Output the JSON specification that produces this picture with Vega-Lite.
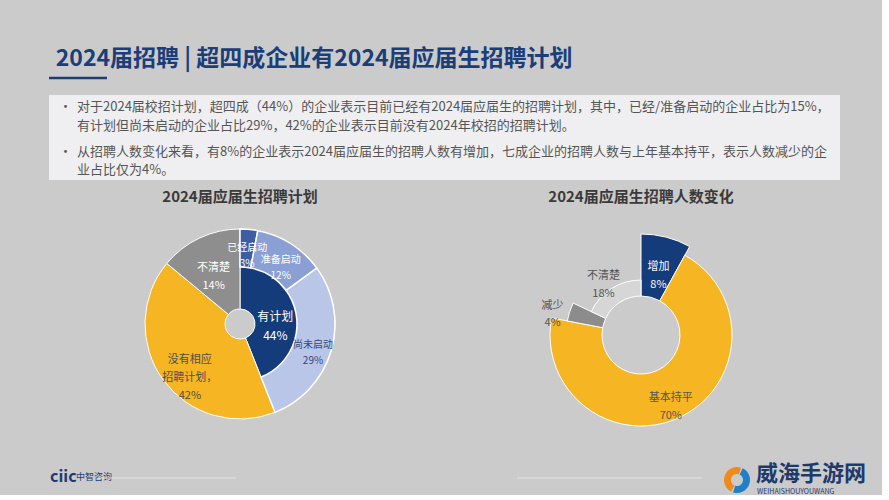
{
  "$schema": "https://vega.github.io/schema/vega-lite/v6.json",
  "background": "#cbcbcb",
  "padding": {"left": 47, "top": 47, "right": 0, "bottom": 0},
  "config": {"font": "Noto Sans CJK SC", "view": {"stroke": null}},
  "title": {"text": "2024届招聘 | 超四成企业有2024届应届生招聘计划", "anchor": "start", "fontSize": 23, "fontWeight": "bold", "color": "#1b3e78", "dx": 8, "offset": 6},
  "datasets": {
    "notes": [
      {"line": 1, "bullet": "•", "text": "对于2024届校招计划，超四成（44%）的企业表示目前已经有2024届应届生的招聘计划，其中，已经/准备启动的企业占比为15%，"},
      {"line": 2, "bullet": "", "text": "有计划但尚未启动的企业占比29%，42%的企业表示目前没有2024年校招的招聘计划。"},
      {"line": 3, "bullet": "•", "text": "从招聘人数变化来看，有8%的企业表示2024届应届生的招聘人数有增加，七成企业的招聘人数与上年基本持平，表示人数减少的企"},
      {"line": 4, "bullet": "", "text": "业占比仅为4%。"}
    ],
    "planGroups": [
      {"group": "有计划", "value": 44, "idx": 1, "label": "有计划\n44%"},
      {"group": "没有相应招聘计划", "value": 42, "idx": 2, "label": "没有相应\n招聘计划，\n42%"},
      {"group": "不清楚", "value": 14, "idx": 3, "label": "不清楚\n14%"}
    ],
    "plan": [
      {"sub": "已经启动", "group": "有计划", "value": 3, "idx": 1, "label": "已经启动\n3%"},
      {"sub": "准备启动", "group": "有计划", "value": 12, "idx": 2, "label": "准备启动\n12%"},
      {"sub": "尚未启动", "group": "有计划", "value": 29, "idx": 3, "label": "尚未启动\n29%"},
      {"sub": "没有相应招聘计划", "group": "没有相应招聘计划", "value": 42, "idx": 4, "label": "没有相应\n招聘计划，\n42%"},
      {"sub": "不清楚", "group": "不清楚", "value": 14, "idx": 5, "label": "不清楚\n14%"}
    ],
    "change": [
      {"cat": "增加", "value": 8, "idx": 1, "label": "增加\n8%"},
      {"cat": "基本持平", "value": 70, "idx": 2, "label": "基本持平\n70%"},
      {"cat": "减少", "value": 4, "idx": 3, "label": "减少\n4%"},
      {"cat": "不清楚", "value": 18, "idx": 4, "label": "不清楚\n18%"}
    ]
  },
  "spacing": 10,
  "resolve": {"scale": {"color": "independent"}},
  "vconcat": [
    {
      "width": 791,
      "height": 85,
      "view": {"fill": "#efeff1", "stroke": null},
      "data": {"name": "notes"},
      "layer": [
        {
          "mark": {"type": "text", "align": "left", "baseline": "middle", "fontSize": 13, "color": "#555555"},
          "encoding": {
            "x": {"value": 28},
            "y": {"field": "line", "type": "quantitative", "scale": {"domain": [1, 2, 3, 4], "range": [12, 31, 57, 75]}, "axis": null},
            "text": {"field": "text"}
          }
        },
        {
          "mark": {"type": "text", "align": "left", "baseline": "middle", "fontSize": 13, "color": "#555555"},
          "encoding": {
            "x": {"value": 10},
            "y": {"field": "line", "type": "quantitative", "scale": {"domain": [1, 2, 3, 4], "range": [12, 31, 57, 75]}, "axis": null},
            "text": {"field": "bullet"}
          }
        },
        {
          "data": {"values": [{}]},
          "mark": {"type": "rule", "color": "#1b3e78", "strokeWidth": 2.5},
          "encoding": {"x": {"value": 0}, "x2": {"value": 58}, "y": {"value": -17}}
        }
      ]
    },
    {
      "spacing": 10,
      "resolve": {"scale": {"color": "independent"}},
      "hconcat": [
        {
          "width": 382,
          "height": 214,
          "title": {"text": "2024届应届生招聘计划", "fontSize": 15, "fontWeight": "bold", "color": "#3a3a3a", "offset": 12, "anchor": "middle"},
          "layer": [
            {
              "data": {"name": "planGroups"},
              "mark": {"type": "arc", "radius": 95, "radius2": 15, "stroke": "white", "strokeWidth": 1},
              "encoding": {
                "theta": {"field": "value", "type": "quantitative", "stack": true},
                "order": {"field": "idx", "type": "quantitative"},
                "color": {"field": "group", "type": "nominal", "legend": null,
                  "scale": {"domain": ["已经启动", "准备启动", "尚未启动", "有计划", "没有相应招聘计划", "不清楚"], "range": ["#3e5da3", "#8aa0d4", "#b9c6e8", "#143b7a", "#f6b523", "#8e8e8e"]}}
              }
            },
            {
              "data": {"name": "plan"},
              "mark": {"type": "arc", "radius": 95, "radius2": 57, "stroke": "white", "strokeWidth": 1.5},
              "encoding": {
                "theta": {"field": "value", "type": "quantitative", "stack": true},
                "order": {"field": "idx", "type": "quantitative"},
                "color": {"field": "sub", "type": "nominal", "legend": null,
                  "scale": {"domain": ["已经启动", "准备启动", "尚未启动", "有计划", "没有相应招聘计划", "不清楚"], "range": ["#3e5da3", "#8aa0d4", "#b9c6e8", "#143b7a", "#f6b523", "#8e8e8e"]}},
                "opacity": {"condition": {"test": "datum.group === '有计划'", "value": 1}, "value": 0}
              }
            },
            {
              "data": {"name": "planGroups"},
              "mark": {"type": "text", "radius": 36, "fontSize": 12, "lineBreak": "\n", "lineHeight": 19, "color": "white"},
              "encoding": {
                "theta": {"field": "value", "type": "quantitative", "stack": true},
                "order": {"field": "idx", "type": "quantitative"},
                "detail": {"field": "group", "type": "nominal"},
                "text": {"condition": {"test": "datum.group === '有计划'", "field": "label", "type": "nominal"}, "value": ""}
              }
            },
            {
              "data": {"name": "planGroups"},
              "mark": {"type": "text", "radius": 62, "fontSize": 11, "lineBreak": "\n", "lineHeight": 18},
              "encoding": {
                "theta": {"field": "value", "type": "quantitative", "stack": true},
                "order": {"field": "idx", "type": "quantitative"},
                "detail": {"field": "group", "type": "nominal"},
                "text": {"condition": {"test": "datum.group !== '有计划'", "field": "label", "type": "nominal"}, "value": ""},
                "color": {"condition": {"test": "datum.group === '不清楚'", "value": "white"}, "value": "#4d4d4d"}
              }
            },
            {
              "data": {"name": "plan"},
              "mark": {"type": "text", "radius": 76, "fontSize": 10, "lineBreak": "\n", "lineHeight": 16},
              "encoding": {
                "theta": {"field": "value", "type": "quantitative", "stack": true},
                "order": {"field": "idx", "type": "quantitative"},
                "detail": {"field": "sub", "type": "nominal"},
                "text": {"condition": {"test": "datum.group === '有计划'", "field": "label", "type": "nominal"}, "value": ""},
                "color": {"condition": {"test": "datum.sub === '尚未启动'", "value": "#34497a"}, "value": "white"}
              }
            }
          ]
        },
        {
          "width": 400,
          "height": 236,
          "title": {"text": "2024届应届生招聘人数变化", "fontSize": 15, "fontWeight": "bold", "color": "#3a3a3a", "offset": 12, "anchor": "middle"},
          "data": {"name": "change"},
          "layer": [
            {
              "mark": {"type": "arc", "radius": 101, "radius2": 39, "stroke": "white", "strokeWidth": 1},
              "encoding": {
                "theta": {"field": "value", "type": "quantitative", "stack": true},
                "order": {"field": "idx", "type": "quantitative"},
                "color": {"field": "cat", "type": "nominal", "legend": null,
                  "scale": {"domain": ["增加", "基本持平", "减少", "不清楚"], "range": ["#143b7a", "#f6b523", "#8c8c8c", "#d6d6d6"]}},
                "opacity": {"condition": {"test": "datum.cat === '增加'", "value": 1}, "value": 0}
              }
            },
            {
              "mark": {"type": "arc", "radius": 91, "radius2": 39, "stroke": "white", "strokeWidth": 1},
              "encoding": {
                "theta": {"field": "value", "type": "quantitative", "stack": true},
                "order": {"field": "idx", "type": "quantitative"},
                "color": {"field": "cat", "type": "nominal", "legend": null,
                  "scale": {"domain": ["增加", "基本持平", "减少", "不清楚"], "range": ["#143b7a", "#f6b523", "#8c8c8c", "#d6d6d6"]}},
                "opacity": {"condition": {"test": "datum.cat === '基本持平'", "value": 1}, "value": 0}
              }
            },
            {
              "mark": {"type": "arc", "radius": 75, "radius2": 39, "stroke": "white", "strokeWidth": 1},
              "encoding": {
                "theta": {"field": "value", "type": "quantitative", "stack": true},
                "order": {"field": "idx", "type": "quantitative"},
                "color": {"field": "cat", "type": "nominal", "legend": null,
                  "scale": {"domain": ["增加", "基本持平", "减少", "不清楚"], "range": ["#143b7a", "#f6b523", "#8c8c8c", "#d6d6d6"]}},
                "opacity": {"condition": {"test": "datum.cat === '减少'", "value": 1}, "value": 0}
              }
            },
            {
              "mark": {"type": "arc", "radius": 55, "radius2": 39, "stroke": "white", "strokeWidth": 1},
              "encoding": {
                "theta": {"field": "value", "type": "quantitative", "stack": true},
                "order": {"field": "idx", "type": "quantitative"},
                "color": {"field": "cat", "type": "nominal", "legend": null,
                  "scale": {"domain": ["增加", "基本持平", "减少", "不清楚"], "range": ["#143b7a", "#f6b523", "#8c8c8c", "#d6d6d6"]}},
                "opacity": {"condition": {"test": "datum.cat === '不清楚'", "value": 1}, "value": 0}
              }
            },
            {
              "mark": {"type": "text", "radius": 70, "fontSize": 11, "lineBreak": "\n", "lineHeight": 18},
              "encoding": {
                "theta": {"field": "value", "type": "quantitative", "stack": true},
                "order": {"field": "idx", "type": "quantitative"},
                "detail": {"field": "cat", "type": "nominal"},
                "text": {"condition": {"test": "datum.cat !== '减少'", "field": "label", "type": "nominal"}, "value": ""},
                "color": {"condition": {"test": "datum.cat === '增加'", "value": "white"}, "value": "#555555"}
              }
            },
            {
              "mark": {"type": "text", "radius": 93, "fontSize": 11, "lineBreak": "\n", "lineHeight": 17, "color": "#555555"},
              "encoding": {
                "theta": {"field": "value", "type": "quantitative", "stack": true},
                "order": {"field": "idx", "type": "quantitative"},
                "detail": {"field": "cat", "type": "nominal"},
                "text": {"condition": {"test": "datum.cat === '减少'", "field": "label", "type": "nominal"}, "value": ""}
              }
            }
          ]
        }
      ]
    },
    {
      "width": 833,
      "height": 32,
      "data": {"values": [{}]},
      "layer": [
        {"mark": {"type": "text", "text": "ciic", "align": "left", "baseline": "middle", "fontSize": 16, "fontWeight": "bold", "color": "#1d3c73"}, "encoding": {"x": {"value": 1}, "y": {"value": 14}}},
        {"mark": {"type": "text", "text": "中智咨询", "align": "left", "baseline": "middle", "fontSize": 9, "color": "#1d3c73"}, "encoding": {"x": {"value": 27}, "y": {"value": 14}}},
        {"mark": {"type": "rule", "color": "#e4e4e4", "strokeWidth": 1}, "encoding": {"x": {"value": 49}, "x2": {"value": 187}, "y": {"value": 15}}},
        {"mark": {"type": "rule", "color": "#e4e4e4", "strokeWidth": 1}, "encoding": {"x": {"value": 468}, "x2": {"value": 653}, "y": {"value": 15}}},
        {"mark": {"type": "arc", "radius": 13, "radius2": 6, "theta": 3.6, "theta2": 6.6, "color": "#f08a1c"}, "encoding": {"x": {"value": 688}, "y": {"value": 17}}},
        {"mark": {"type": "arc", "radius": 13, "radius2": 6, "theta": 0.45, "theta2": 3.45, "color": "#1f7fc8"}, "encoding": {"x": {"value": 688}, "y": {"value": 17}}},
        {"mark": {"type": "text", "text": "威海手游网", "align": "left", "baseline": "middle", "fontSize": 22, "fontWeight": "bold", "color": "#1d3a6b"}, "encoding": {"x": {"value": 707}, "y": {"value": 11}}},
        {"mark": {"type": "text", "text": "WEIHAISHOUYOUWANG", "align": "left", "baseline": "middle", "fontSize": 7, "color": "#1d3a6b"}, "encoding": {"x": {"value": 708}, "y": {"value": 29}}}
      ]
    }
  ]
}
